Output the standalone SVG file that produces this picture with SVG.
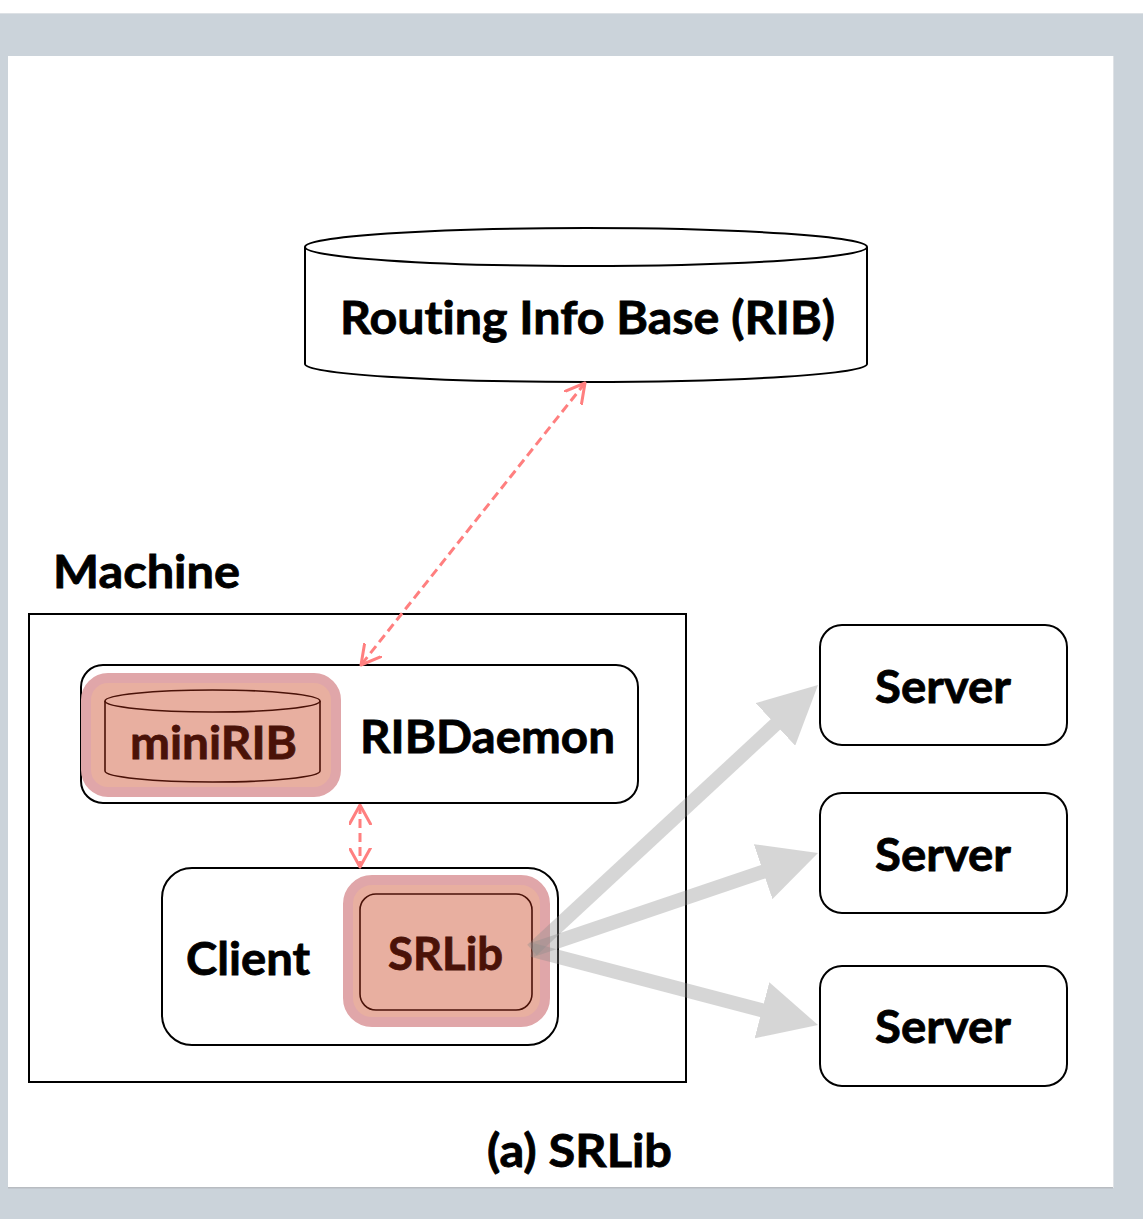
<svg xmlns="http://www.w3.org/2000/svg" width="1143" height="1219" viewBox="0 0 1143 1219">
  <style>
    .lbl { font-family: Lato, "Open Sans", "Liberation Sans", sans-serif; font-weight: 700; font-size: 46px; fill: #000; stroke: #000; stroke-width: 0.8; font-variant-ligatures: none; font-feature-settings: "liga" 0; }
    .dark { fill: #4a1208; stroke: #4a1208; }
    .box { fill: #fff; stroke: #000; stroke-width: 2; }
    .halo { fill: #e8afa0; stroke: #e0a6a9; stroke-width: 10; }
    .core { fill: #e8afa0; stroke: #4a1208; stroke-width: 1.6; }
    .link { fill: none; stroke: #ff7f7f; stroke-width: 3; stroke-dasharray: 9 5; marker-start: url(#chev); marker-end: url(#chev); }
    .fan { fill: none; stroke: #8c8c8c; stroke-width: 14; marker-end: url(#head); }
  </style>
  <defs>
    <marker id="chev" markerUnits="userSpaceOnUse" viewBox="0 0 21 23" markerWidth="21" markerHeight="23" refX="19.5" refY="11.5" orient="auto-start-reverse">
      <path d="M0.5,1 L19.5,11.5 L0.5,22" fill="none" stroke="#ff7f7f" stroke-width="3" stroke-linecap="round" stroke-linejoin="round"/>
    </marker>
    <marker id="head" markerUnits="userSpaceOnUse" viewBox="0 0 58 58" markerWidth="58" markerHeight="58" refX="13" refY="29" orient="auto">
      <path d="M0,0 L58,29 L0,58 Z" fill="#8c8c8c"/>
    </marker>
  </defs>

  <!-- page frame -->
  <g id="page">
    <rect x="0" y="0" width="1143" height="1219" fill="#cbd3da"/>
    <rect x="0" y="0" width="1143" height="13" fill="#ffffff"/>
    <rect x="0" y="13" width="1143" height="1" fill="#dde1e5"/>
    <rect x="8" y="56" width="1105" height="1131" fill="#ffffff"/>
    <rect x="8" y="1187" width="1105" height="1.5" fill="#b8bcc1"/>
    <rect x="1113" y="56" width="1" height="1132" fill="#dfe2e6"/>
  </g>

  <!-- central routing database -->
  <g id="node-rib">
    <path class="box" d="M305,247 A281,19 0 0 1 867,247 L867,364 A281,18 0 0 1 305,364 Z"/>
    <path d="M305,247 A281,19 0 0 0 867,247" fill="none" stroke="#000" stroke-width="2"/>
    <text class="lbl" x="340" y="334" textLength="495" lengthAdjust="spacingAndGlyphs">Routing Info Base (RIB)</text>
  </g>

  <!-- machine boundary -->
  <g id="node-machine">
    <rect class="box" x="29" y="614" width="657" height="468"/>
    <text class="lbl" x="53" y="588" textLength="187" lengthAdjust="spacingAndGlyphs">Machine</text>
  </g>

  <g id="node-ribdaemon">
    <rect class="box" x="81" y="665" width="557" height="138" rx="22" ry="22"/>
    <text class="lbl" x="360" y="753" textLength="255" lengthAdjust="spacingAndGlyphs">RIBDaemon</text>
  </g>

  <g id="node-minirib">
    <rect class="halo" x="86" y="678" width="250" height="114" rx="22" ry="22"/>
    <path class="core" d="M105,701 A107.5,11 0 0 1 320,701 L320,771 A107.5,11 0 0 1 105,771 Z"/>
    <path d="M105,701 A107.5,11 0 0 0 320,701" fill="none" stroke="#4a1208" stroke-width="1.6"/>
    <text class="lbl dark" x="130" y="759" textLength="167" lengthAdjust="spacingAndGlyphs">miniRIB</text>
  </g>

  <g id="node-client">
    <rect class="box" x="162" y="868" width="396" height="177" rx="30" ry="30"/>
    <text class="lbl" x="186" y="975" textLength="124" lengthAdjust="spacingAndGlyphs">Client</text>
  </g>

  <g id="node-srlib">
    <rect class="halo" x="348" y="880" width="197" height="142" rx="24" ry="24"/>
    <rect class="core" x="360" y="894" width="172" height="116" rx="16" ry="16"/>
    <text class="lbl dark" x="388" y="970" textLength="115" lengthAdjust="spacingAndGlyphs">SRLib</text>
  </g>

  <g id="node-server-1">
    <rect class="box" x="820" y="625" width="247" height="120" rx="22" ry="22"/>
    <text class="lbl" x="875" y="703" textLength="136" lengthAdjust="spacingAndGlyphs">Server</text>
  </g>
  <g id="node-server-2">
    <rect class="box" x="820" y="793" width="247" height="120" rx="22" ry="22"/>
    <text class="lbl" x="875" y="871" textLength="136" lengthAdjust="spacingAndGlyphs">Server</text>
  </g>
  <g id="node-server-3">
    <rect class="box" x="820" y="966" width="247" height="120" rx="22" ry="22"/>
    <text class="lbl" x="875" y="1043" textLength="136" lengthAdjust="spacingAndGlyphs">Server</text>
  </g>

  <!-- connectors -->
  <g id="connectors">
    <path class="link" d="M585,383 L361,665"/>
    <path class="link" d="M360,805 L360,867"/>
    <g opacity="0.35"><path class="fan" d="M532,950 L785,715.6"/></g>
    <g opacity="0.35"><path class="fan" d="M532,950 L775.4,867.5"/></g>
    <g opacity="0.35"><path class="fan" d="M532,950 L774.5,1013.6"/></g>
  </g>

  <g id="caption">
    <text class="lbl" x="487" y="1167" textLength="185" lengthAdjust="spacingAndGlyphs">(a) SRLib</text>
  </g>
</svg>
